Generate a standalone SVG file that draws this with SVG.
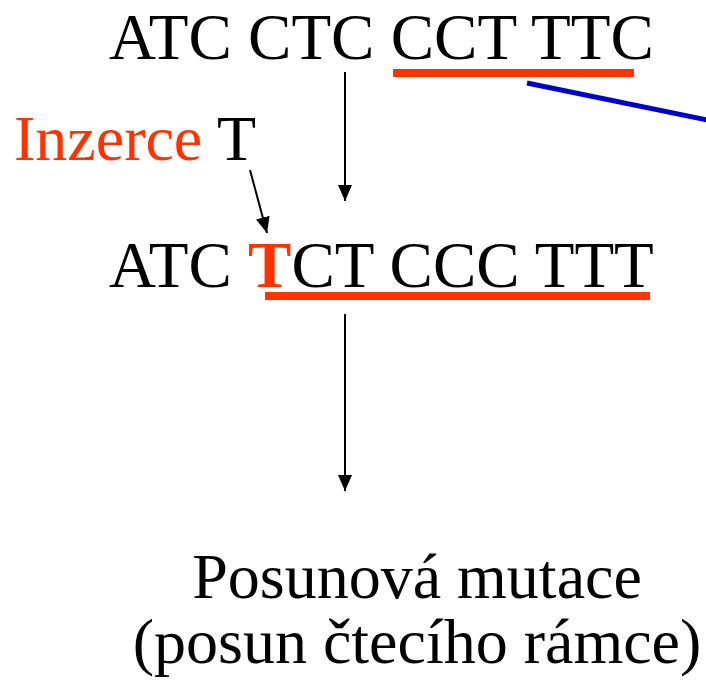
<svg xmlns="http://www.w3.org/2000/svg" width="706" height="683" viewBox="0 0 706 683">
<style>
text{font-family:"Liberation Serif","Times New Roman",serif;font-size:64px;fill:#000}
.seq{font-size:65px}
.red{fill:#ff3300}
.conn{stroke:#000;stroke-width:2;fill:none}
</style>
<defs>
<marker id="ah" viewBox="0 0 16 14" refX="16" refY="7" markerWidth="16" markerHeight="14" markerUnits="userSpaceOnUse" orient="auto">
<path d="M0,0 L16,7 L0,14 z" fill="#000"/>
</marker>
</defs>
<rect width="706" height="683" fill="#fff"/>
<g id="seq1">
<text class="seq" x="109" y="59">ATC CTC CCT TTC</text>
<rect x="393" y="69" width="241" height="8" fill="#ff3300"/>
</g>
<g id="insertion">
<text x="14" y="160"><tspan class="red">Inzerce</tspan> T</text>
</g>
<g id="seq2">
<text class="seq" x="109" y="287">ATC <tspan class="red" font-weight="bold">T</tspan>CT CCC TTT</text>
<rect x="265" y="292" width="385" height="8" fill="#ff3300"/>
</g>
<g id="result">
<text x="417" y="598" text-anchor="middle">Posunová mutace</text>
<text x="417" y="663" text-anchor="middle">(posun čtecího rámce)</text>
</g>
<g id="connectors">
<line class="conn" x1="345" y1="72" x2="345" y2="201" marker-end="url(#ah)"/>
<line class="conn" x1="250" y1="170" x2="267" y2="233" marker-end="url(#ah)"/>
<line class="conn" x1="345" y1="314" x2="345" y2="491" marker-end="url(#ah)"/>
<line x1="527" y1="83" x2="712" y2="121" stroke="#0000cc" stroke-width="5"/>
</g>
</svg>
